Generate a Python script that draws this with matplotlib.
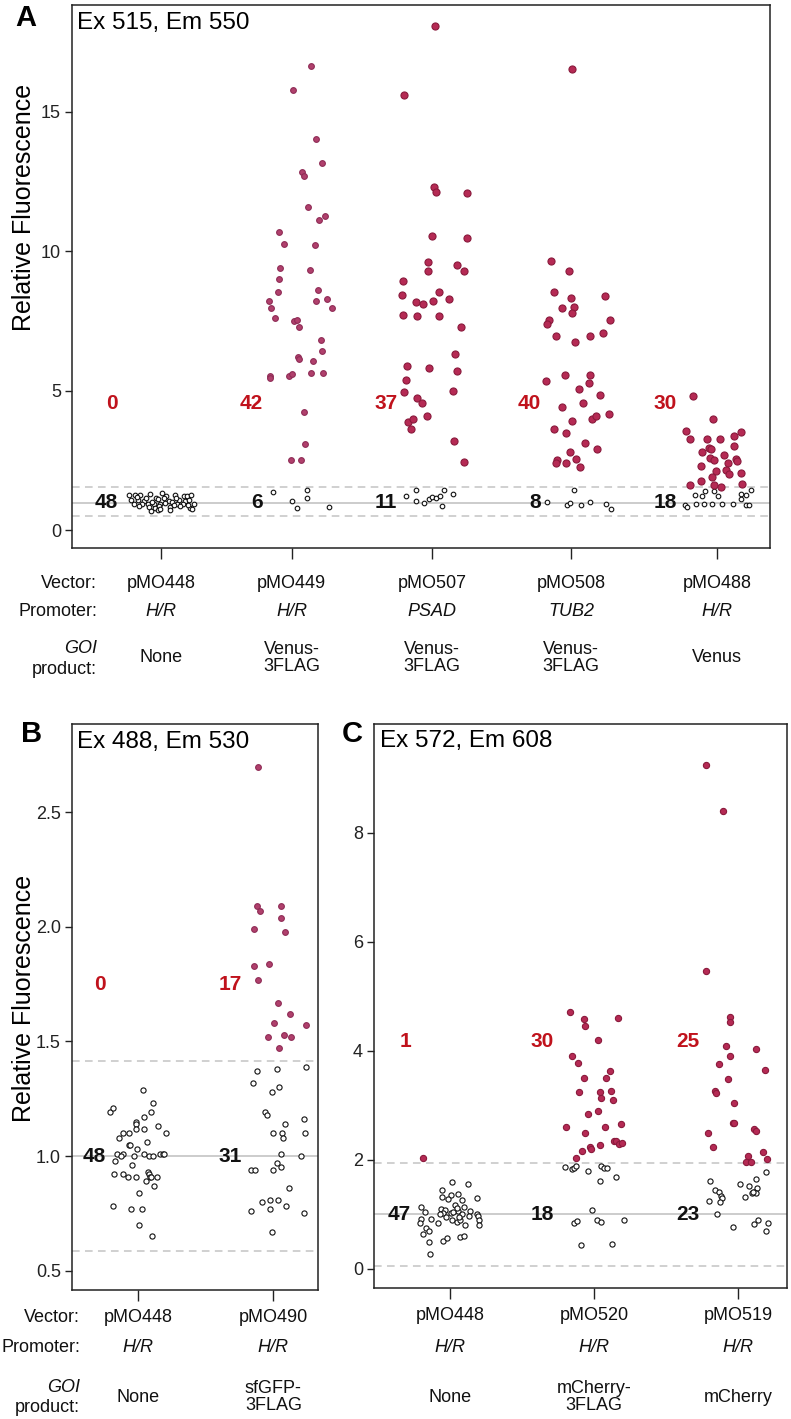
import numpy as np
import matplotlib.pyplot as plt
from matplotlib.transforms import blended_transform_factory

plt.rcParams['font.family'] = ['Liberation Sans', 'DejaVu Sans']

W, H = 791, 1419
CRIMSON = ('#b52a54', '#8a1a3c')
MAGENTA = ('#b0406c', '#8f2c56')
RED_TEXT = '#c0121c'
GREY = '#c4c4c4'

# ---------------- panel A data ----------------
a_vectors = ['pMO448', 'pMO449', 'pMO507', 'pMO508', 'pMO488']
a_promoters = ['H/R', 'H/R', 'PSAD', 'TUB2', 'H/R']
a_products = ['None', 'Venus-\n3FLAG', 'Venus-\n3FLAG', 'Venus-\n3FLAG', 'Venus']
a_pos = [1.0, 1.94, 2.95, 3.95, 5.0]
a_above = [0, 42, 37, 40, 30]
a_below = [48, 6, 11, 8, 18]

a1_open_dx = [-0.23, -0.185, -0.149, -0.077, -0.034, 0.007, 0.038, 0.098, 0.163, 0.187, 0.216,
              -0.216, -0.168, -0.120, -0.022, 0.055, 0.079, 0.127, 0.175, 0.201,
              -0.197, -0.137, -0.094, -0.053, -0.010, 0.031, 0.115, 0.158, 0.235,
              -0.161, -0.089, -0.041, -0.017, 0.067, 0.139, 0.211,
              -0.072, -0.024, 0.062, 0.223,
              -0.106, 0.019, 0.110, -0.173, -0.065, -0.005, 0.091, 0.191]
a1_open_y = [1.28, 1.28, 1.27, 1.32, 1.18, 1.35, 1.24, 1.27, 1.22, 1.24, 1.27,
             1.09, 1.09, 1.06, 1.12, 1.06, 1.03, 1.09, 1.06, 1.08,
             0.96, 0.94, 0.96, 0.94, 0.96, 0.99, 0.96, 0.96, 0.94,
             0.86, 0.83, 0.81, 0.86, 0.83, 0.86, 0.81,
             0.68, 0.73, 0.73, 0.76,
             1.15, 1.15, 1.17, 1.19, 1.03, 0.77, 0.90, 0.90]
a1_red_dx = []
a1_red_y = []

a2_red_dx = [0.137, 0.012, 0.175, 0.218, 0.076, 0.091, 0.115, 0.242, 0.194, -0.094, -0.053, 0.168,
             -0.084, 0.134, -0.091, 0.187, -0.096, -0.161, 0.173, 0.256, -0.147, 0.290, -0.118,
             0.017, 0.038, 0.053, 0.211, 0.220, 0.043, 0.053, 0.151, -0.154, -0.156, -0.019,
             0.004, 0.141, 0.227, 0.091, 0.096, -0.007, 0.069]
a2_red_y = [16.64, 15.77, 14.04, 13.18, 12.86, 12.69, 11.58, 11.26, 11.12, 10.68, 10.28, 10.22,
            9.42, 9.33, 9.0, 8.63, 8.53, 8.24, 8.23, 8.30, 7.99, 7.99, 7.63, 7.51, 7.56, 7.28,
            6.82, 6.44, 6.22, 6.15, 6.09, 5.54, 5.47, 5.54, 5.59, 5.65, 5.65, 4.23, 3.09, 2.51, 2.53]
a2_open_dx = [-0.135, 0.110, 0.0, 0.110, 0.040, 0.266]
a2_open_y = [1.385, 1.45, 1.065, 1.18, 0.82, 0.85]

a3_red_dx = [0.019, -0.199, 0.012, 0.029, 0.252, 0.0, 0.252, -0.032, -0.032, 0.180, 0.230, -0.212,
             -0.219, -0.118, -0.063, 0.004, 0.047, 0.124, -0.209, -0.111, 0.047, 0.206, 0.163,
             -0.183, -0.024, 0.180, -0.187, -0.199, -0.106, -0.070, 0.151, -0.039, -0.173,
             -0.135, -0.154, 0.155, 0.227]
a3_red_y = [18.09, 15.60, 12.32, 12.13, 12.08, 10.57, 10.47, 9.62, 9.29, 9.53, 9.29, 8.93, 8.43,
            8.20, 8.10, 8.23, 8.55, 8.29, 7.72, 7.67, 7.70, 7.28, 6.34, 5.88, 5.84, 5.71, 5.40,
            4.95, 4.73, 4.55, 4.99, 4.10, 3.89, 3.99, 3.64, 3.20, 2.45]
a3_open_dx = [-0.055, -0.024, 0.0, 0.031, 0.055, 0.083, 0.072, 0.148, -0.185, -0.115, -0.115]
a3_open_y = [0.99, 1.12, 1.19, 1.15, 1.24, 1.45, 0.86, 1.31, 1.22, 1.45, 1.05]

a4_red_dx = [0.009, -0.144, -0.014, -0.122, 0.0, 0.240, -0.063, 0.017, 0.009, -0.156, -0.173,
             0.281, -0.108, 0.029, 0.132, 0.232, -0.182, -0.045, 0.132, 0.129, 0.055, 0.204,
             -0.063, 0.084, 0.007, 0.149, 0.180, 0.273, -0.122, -0.034, 0.103, 0.185, -0.007,
             0.036, -0.099, -0.106, -0.038, 0.065]
a4_red_y = [16.53, 9.64, 9.29, 8.56, 8.32, 8.42, 7.97, 8.01, 7.78, 7.54, 7.40, 7.54, 6.96, 6.76,
            6.96, 7.06, 5.37, 5.58, 5.58, 5.28, 5.06, 4.87, 4.42, 4.58, 3.94, 4.0, 4.10, 4.19,
            3.65, 3.51, 3.12, 2.92, 2.81, 2.55, 2.53, 2.42, 2.43, 2.28]
a4_open_dx = [-0.175, 0.019, -0.031, -0.007, 0.074, 0.132, 0.252, 0.283]
a4_open_y = [1.03, 1.44, 0.92, 0.99, 0.90, 1.01, 0.96, 0.77]

a5_red_dx = [-0.176, -0.029, -0.223, -0.197, -0.075, 0.017, 0.122, 0.173, -0.106, -0.060, -0.046,
             0.119, -0.053, -0.024, 0.047, 0.081, 0.137, 0.146, -0.113, -0.005, 0.060, 0.083,
             0.175, -0.034, -0.118, -0.197, -0.024, 0.026, 0.182]
a5_red_y = [4.82, 3.99, 3.56, 3.27, 3.28, 3.28, 3.39, 3.52, 2.80, 2.97, 2.91, 3.03, 2.60, 2.53,
            2.70, 2.42, 2.57, 2.50, 2.31, 2.13, 2.17, 2.04, 2.07, 1.93, 1.78, 1.62, 1.64, 1.57, 1.68]
a5_open_dx = [-0.228, -0.216, -0.161, -0.108, -0.089, -0.024, 0.007, -0.151, -0.094, -0.034,
              0.036, 0.115, 0.168, 0.204, 0.240, 0.173, 0.204, 0.227]
a5_open_y = [0.92, 0.83, 1.28, 1.23, 1.42, 1.41, 1.22, 0.93, 0.93, 0.93, 0.93, 0.93, 1.31, 1.28,
             1.45, 1.12, 0.92, 0.92]

# ---------------- panel B data ----------------
b_vectors = ['pMO448', 'pMO490']
b_promoters = ['H/R', 'H/R']
b_products = ['None', 'sfGFP-\n3FLAG']
b_pos = [1.0, 2.0]
b_above = [0, 17]
b_below = [48, 31]

b1_open_dx = [-0.207, -0.183, 0.035, 0.106, 0.094, 0.044, -0.015, -0.015, 0.143, -0.017, 0.039,
              0.205, -0.109, -0.067, -0.143, 0.064, -0.067, -0.059, -0.007, -0.158, -0.109,
              -0.128, -0.030, 0.044, 0.076, 0.106, 0.158, 0.183, 0.187, -0.170, -0.047, -0.178,
              -0.109, -0.079, -0.020, 0.074, 0.076, 0.084, 0.094, 0.139, 0.057, 0.113, 0.002,
              -0.187, -0.052, 0.027, 0.007, 0.099]
b1_open_y = [1.19, 1.21, 1.29, 1.23, 1.19, 1.17, 1.15, 1.14, 1.13, 1.12, 1.12, 1.10, 1.10, 1.10,
             1.08, 1.06, 1.05, 1.05, 1.03, 1.01, 1.01, 1.00, 1.00, 1.01, 1.00, 1.00, 1.01, 1.01,
             1.01, 0.98, 0.96, 0.92, 0.92, 0.91, 0.91, 0.93, 0.92, 0.91, 0.91, 0.91, 0.89, 0.87,
             0.84, 0.78, 0.77, 0.77, 0.70, 0.65]
b1_red_dx = []
b1_red_y = []

b2_red_dx = [-0.116, -0.121, -0.101, 0.059, 0.057, 0.087, -0.146, -0.143, -0.030, -0.113, 0.035,
             0.121, 0.002, 0.244, -0.039, 0.076, 0.133, 0.044]
b2_red_y = [2.70, 2.09, 2.07, 2.09, 2.04, 1.98, 1.99, 1.83, 1.84, 1.77, 1.67, 1.62, 1.58, 1.57,
            1.52, 1.53, 1.52, 1.47]
b2_open_dx = [-0.153, -0.121, 0.027, 0.044, -0.010, 0.242, -0.064, -0.047, 0.089, 0.224, -0.002,
              0.064, 0.069, 0.237, 0.057, 0.205, 0.027, -0.165, -0.133, -0.005, 0.057, 0.113,
              -0.084, -0.022, 0.032, -0.027, 0.094, -0.165, 0.230, -0.010]
b2_open_y = [1.32, 1.37, 1.38, 1.30, 1.28, 1.39, 1.19, 1.18, 1.14, 1.16, 1.10, 1.10, 1.08, 1.10,
             1.01, 1.00, 0.97, 0.94, 0.94, 0.94, 0.95, 0.86, 0.80, 0.81, 0.81, 0.77, 0.78, 0.76,
             0.75, 0.67]

# ---------------- panel C data ----------------
c_vectors = ['pMO448', 'pMO520', 'pMO519']
c_promoters = ['H/R', 'H/R', 'H/R']
c_products = ['None', 'mCherry-\n3FLAG', 'mCherry']
c_pos = [1.0, 2.0, 3.0]
c_above = [1, 30, 25]
c_below = [47, 18, 23]

c1_red_dx = [-0.185]
c1_red_y = [2.04]
c1_open_dx = [0.016, 0.127, -0.058, 0.005, 0.058, -0.058, -0.012, 0.085, 0.188, 0.035, 0.099,
              -0.203, -0.174, -0.065, -0.035, -0.047, -0.069, 0.058, 0.085, 0.005, 0.139, 0.185,
              0.192, -0.203, -0.208, -0.134, -0.085, 0.016, 0.047, 0.069, 0.065, 0.104, 0.132,
              0.201, 0.201, -0.167, -0.144, -0.190, -0.047, -0.019, 0.069, 0.099, -0.144, -0.139,
              0.02, 0.05, -0.03]
c1_open_y = [1.59, 1.56, 1.44, 1.36, 1.37, 1.32, 1.28, 1.27, 1.31, 1.17, 1.13, 1.14, 1.05, 1.10,
             1.08, 1.02, 1.01, 1.07, 1.01, 1.03, 1.06, 1.00, 0.98, 0.92, 0.84, 0.92, 0.85, 0.90,
             0.87, 0.90, 0.96, 0.81, 0.97, 0.90, 0.81, 0.75, 0.69, 0.64, 0.52, 0.56, 0.58, 0.61,
             0.50, 0.28, 1.05, 1.12, 0.95]

c2_red_dx = [-0.165, -0.072, -0.060, 0.164, 0.028, -0.151, -0.114, -0.072, 0.108, 0.085, -0.102,
             0.044, 0.115, 0.051, 0.132, -0.042, 0.028, -0.192, 0.074, 0.185, -0.063, 0.136,
             0.155, 0.171, 0.194, 0.044, -0.081, -0.031, -0.019, -0.123]
c2_red_y = [4.71, 4.59, 4.45, 4.60, 4.21, 3.90, 3.77, 3.50, 3.63, 3.50, 3.24, 3.24, 3.27, 3.13,
            3.10, 2.84, 2.90, 2.61, 2.61, 2.66, 2.49, 2.35, 2.35, 2.29, 2.31, 2.28, 2.17, 2.23,
            2.20, 2.04]
c2_open_dx = [-0.201, -0.151, -0.142, -0.123, -0.042, 0.051, 0.069, 0.090, 0.039, 0.155, -0.014,
              -0.139, -0.116, 0.021, 0.046, 0.206, -0.093, 0.127]
c2_open_y = [1.87, 1.83, 1.86, 1.88, 1.79, 1.88, 1.86, 1.85, 1.62, 1.69, 1.08, 0.85, 0.88, 0.90,
             0.87, 0.89, 0.44, 0.45]

c3_red_dx = [-0.220, -0.107, -0.220, -0.056, -0.053, -0.086, 0.127, -0.058, -0.130, 0.188, -0.067,
             -0.158, -0.156, -0.026, -0.038, -0.028, -0.208, -0.176, 0.108, 0.125, 0.171, 0.067,
             0.053, 0.090, 0.201]
c3_red_y = [9.24, 8.41, 5.47, 4.63, 4.54, 4.09, 4.03, 3.91, 3.76, 3.65, 3.49, 3.27, 3.22, 3.04,
            2.68, 2.67, 2.49, 2.24, 2.56, 2.53, 2.15, 2.07, 1.96, 1.96, 2.02]
c3_open_dx = [-0.197, -0.163, -0.130, -0.118, -0.111, -0.123, -0.204, -0.146, 0.016, 0.074, 0.127,
              0.194, 0.132, 0.046, 0.099, 0.113, 0.127, 0.101, -0.035, 0.108, 0.139, 0.206, 0.192]
c3_open_y = [1.61, 1.44, 1.42, 1.34, 1.30, 1.22, 1.24, 1.00, 1.55, 1.53, 1.65, 1.77, 1.49, 1.32,
             1.39, 1.41, 1.40, 1.42, 0.77, 0.83, 0.90, 0.84, 0.70]


def fx(px):
    return px / W


def fy(py):
    return 1 - py / H


def draw_groups(ax, pos, reds, opens, red_sizes, red_colors, s_open):
    for p, (dx, y) in zip(pos, opens):
        ax.scatter(p + np.array(dx), y, s=s_open, facecolor='white', edgecolor='#111111',
                   linewidths=0.8, zorder=3)
    for p, (dx, y), s, (fc, ec) in zip(pos, reds, red_sizes, red_colors):
        if len(dx):
            ax.scatter(p + np.array(dx), y, s=s, facecolor=fc, edgecolor=ec,
                       linewidths=0.8, zorder=4)


def style_axes(ax, xlim, ylim, yticks, yfmt):
    ax.set_xlim(*xlim)
    ax.set_ylim(*ylim)
    ax.set_yticks(yticks)
    ax.set_yticklabels([yfmt.format(v) for v in yticks])
    for sp in ax.spines.values():
        sp.set_linewidth(1.1)
        sp.set_color('#222222')
    ax.tick_params(axis='y', direction='out', length=5, width=1, labelsize=13, pad=3,
                   colors='#222222')
    ax.tick_params(axis='x', direction='out', length=8, width=1, labelbottom=False,
                   colors='#222222')


def ref_lines(ax, mid, lo, hi):
    ax.axhline(mid, color=GREY, lw=1.2, zorder=1)
    for v in (lo, hi):
        ax.axhline(v, color=GREY, lw=1.1, ls=(0, (5, 3.5)), zorder=1)


def counts(ax, lab_x, above, below, y_red):
    for x, na, nb in zip(lab_x, above, below):
        ax.text(x, y_red, str(na), color=RED_TEXT, fontsize=15, fontweight='bold',
                ha='right', va='center', zorder=5)
        ax.text(x, 1.0, str(nb), color='#111111', fontsize=15, fontweight='bold',
                ha='right', va='center', zorder=5)


def rows(fig, ax, pos, vectors, promoters, products, ys):
    tr = blended_transform_factory(ax.transData, fig.transFigure)
    for p, v, pr, prod in zip(pos, vectors, promoters, products):
        ax.text(p, fy(ys[0]), v, transform=tr, ha='center', va='center', fontsize=13,
                color='#111111', clip_on=False)
        ax.text(p, fy(ys[1]), pr, transform=tr, ha='center', va='center', fontsize=13,
                style='italic', color='#111111', clip_on=False)
        ax.text(p, fy(ys[2]), prod, transform=tr, ha='center', va='center', fontsize=13,
                color='#111111', linespacing=1.05, clip_on=False)


def row_labels(fig, xr, ys):
    fig.text(fx(xr), fy(ys[0]), 'Vector:', ha='right', va='center', fontsize=13, color='#111111')
    fig.text(fx(xr), fy(ys[1]), 'Promoter:', ha='right', va='center', fontsize=13, color='#111111')
    fig.text(fx(xr), fy(ys[2] - 10), 'GOI', ha='right', va='center', fontsize=13,
             style='italic', color='#111111')
    fig.text(fx(xr), fy(ys[2] + 11), 'product:', ha='right', va='center', fontsize=13,
             color='#111111')


fig = plt.figure(figsize=(W / 100, H / 100), dpi=100)

# ---- panel A ----
axA = fig.add_axes([fx(72), fy(548), fx(770) - fx(72), fy(5.4) - fy(548)])
ref_lines(axA, 1.0, 0.50, 1.56)
draw_groups(axA, a_pos,
            [(a1_red_dx, a1_red_y), (a2_red_dx, a2_red_y), (a3_red_dx, a3_red_y),
             (a4_red_dx, a4_red_y), (a5_red_dx, a5_red_y)],
            [(a1_open_dx, a1_open_y), (a2_open_dx, a2_open_y), (a3_open_dx, a3_open_y),
             (a4_open_dx, a4_open_y), (a5_open_dx, a5_open_y)],
            red_sizes=[24, 17, 26, 26, 26],
            red_colors=[CRIMSON, MAGENTA, CRIMSON, CRIMSON, CRIMSON], s_open=11)
style_axes(axA, (0.36, 5.38), (-0.63, 18.82), [0, 5, 10, 15], '{:g}')
axA.set_xticks(a_pos)
counts(axA, [0.69, 1.73, 2.70, 3.73, 4.71], a_above, a_below, 4.55)
rows(fig, axA, a_pos, a_vectors, a_promoters, a_products, [583, 612, 658])
row_labels(fig, 97, [583, 612, 658])
fig.text(fx(77), fy(29), 'Ex 515, Em 550', fontsize=17.5, ha='left', va='baseline')

# ---- panel B ----
axB = fig.add_axes([fx(72), fy(1290), fx(318) - fx(72), fy(724) - fy(1290)])
ref_lines(axB, 1.0, 0.585, 1.415)
draw_groups(axB, b_pos,
            [(b1_red_dx, b1_red_y), (b2_red_dx, b2_red_y)],
            [(b1_open_dx, b1_open_y), (b2_open_dx, b2_open_y)],
            red_sizes=[17, 17], red_colors=[MAGENTA, MAGENTA], s_open=14)
style_axes(axB, (0.51, 2.33), (0.415, 2.886), [0.5, 1.0, 1.5, 2.0, 2.5], '{:.1f}')
axB.set_xticks(b_pos)
counts(axB, [0.76, 1.77], b_above, b_below, 1.75)
rows(fig, axB, b_pos, b_vectors, b_promoters, b_products, [1318, 1348, 1397])
row_labels(fig, 80, [1318, 1348, 1397])
fig.text(fx(77), fy(748), 'Ex 488, Em 530', fontsize=17.5, ha='left', va='baseline')

# ---- panel C ----
axC = fig.add_axes([fx(374), fy(1288), fx(787) - fx(374), fy(724) - fy(1288)])
ref_lines(axC, 1.01, 0.06, 1.95)
draw_groups(axC, c_pos,
            [(c1_red_dx, c1_red_y), (c2_red_dx, c2_red_y), (c3_red_dx, c3_red_y)],
            [(c1_open_dx, c1_open_y), (c2_open_dx, c2_open_y), (c3_open_dx, c3_open_y)],
            red_sizes=[20, 20, 20], red_colors=[CRIMSON, CRIMSON, CRIMSON], s_open=14)
style_axes(axC, (0.472, 3.34), (-0.35, 10.0), [0, 2, 4, 6, 8], '{:g}')
axC.set_xticks(c_pos)
counts(axC, [0.73, 1.72, 2.73], c_above, c_below, 4.17)
rows(fig, axC, c_pos, c_vectors, c_promoters, c_products, [1315, 1347, 1397])
fig.text(fx(380), fy(747), 'Ex 572, Em 608', fontsize=17.5, ha='left', va='baseline')

# ---- y labels and panel letters ----
fig.text(fx(24), fy(207), 'Relative Fluorescence', rotation=90, fontsize=18,
         ha='center', va='center')
fig.text(fx(24), fy(998), 'Relative Fluorescence', rotation=90, fontsize=18,
         ha='center', va='center')
for letter, (x, y) in zip('ABC', [(26, 18), (32, 734), (352, 734)]):
    fig.text(fx(x), fy(y), letter, fontsize=21, fontweight='bold', ha='center', va='center')

fig.savefig('out.png', dpi=100)
